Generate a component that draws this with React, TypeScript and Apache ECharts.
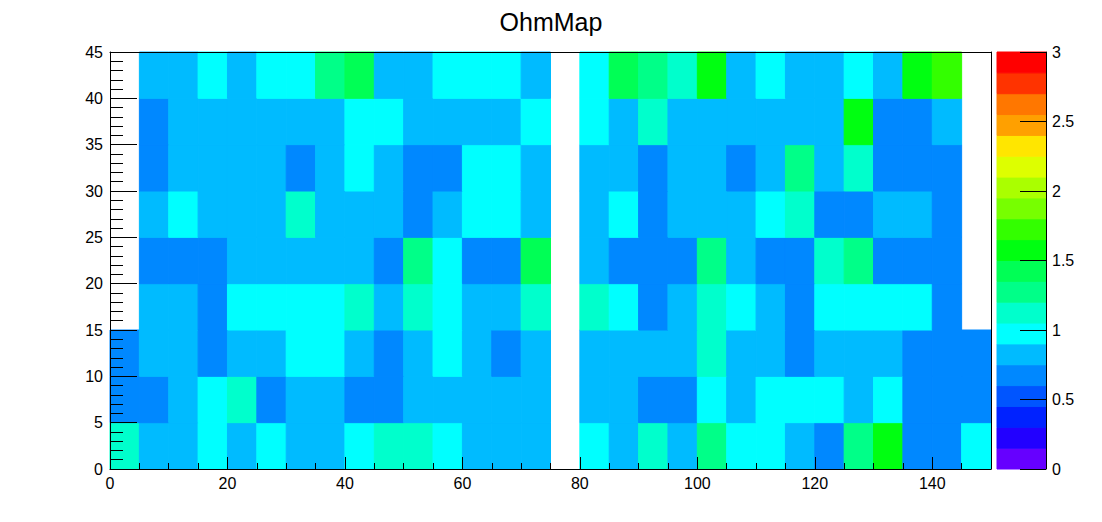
import React, { useEffect, useRef } from "react";
import * as echarts from "echarts";

// Bin edges (lower edges) along x and y
const xBinStarts = [0, 5, 10, 15, 20, 25, 30, 35, 40, 45, 50, 55, 60, 65, 70, 75, 80, 85, 90, 95, 100, 105, 110, 115, 120, 125, 130, 135, 140, 145];
const yBinStarts = [0, 5, 10, 15, 20, 25, 30, 35, 40];
const binWidth = 5;

// Cell contents per y bin (null = empty bin)
const row0 = [1.12, 0.82, 0.82, 0.97, 0.82, 0.97, 0.82, 0.82, 0.97, 1.12, 1.12, 0.97, 0.82, 0.82, 0.82, null, 0.97, 0.82, 1.12, 0.82, 1.28, 0.97, 0.97, 0.82, 0.68, 1.28, 1.57, 0.68, 0.68, 0.97];
const row5 = [0.68, 0.68, 0.82, 0.97, 1.12, 0.68, 0.82, 0.82, 0.68, 0.68, 0.82, 0.82, 0.82, 0.82, 0.82, null, 0.82, 0.82, 0.68, 0.68, 0.97, 0.82, 0.97, 0.97, 0.97, 0.82, 0.97, 0.68, 0.68, 0.68];
const row10 = [0.68, 0.82, 0.82, 0.68, 0.82, 0.82, 0.97, 0.97, 0.82, 0.68, 0.82, 0.97, 0.82, 0.68, 0.82, null, 0.82, 0.82, 0.82, 0.82, 1.12, 0.82, 0.82, 0.68, 0.82, 0.82, 0.82, 0.68, 0.68, 0.68];
const row15 = [null, 0.82, 0.82, 0.68, 0.97, 0.97, 0.97, 0.97, 1.12, 0.82, 1.12, 0.97, 0.82, 0.82, 1.12, null, 1.12, 0.97, 0.68, 0.82, 1.12, 0.97, 0.82, 0.68, 0.97, 0.97, 0.97, 0.97, 0.68, null];
const row20 = [null, 0.68, 0.68, 0.68, 0.82, 0.82, 0.82, 0.82, 0.82, 0.68, 1.28, 0.97, 0.68, 0.68, 1.42, null, 0.82, 0.68, 0.68, 0.68, 1.28, 0.82, 0.68, 0.68, 1.12, 1.28, 0.68, 0.68, 0.68, null];
const row25 = [null, 0.82, 0.97, 0.82, 0.82, 0.82, 1.12, 0.82, 0.82, 0.82, 0.68, 0.82, 0.97, 0.97, 0.82, null, 0.82, 0.97, 0.68, 0.82, 0.82, 0.82, 0.97, 1.12, 0.68, 0.68, 0.82, 0.82, 0.68, null];
const row30 = [null, 0.68, 0.82, 0.82, 0.82, 0.82, 0.68, 0.82, 0.97, 0.82, 0.68, 0.68, 0.97, 0.97, 0.82, null, 0.82, 0.82, 0.68, 0.82, 0.82, 0.68, 0.82, 1.28, 0.82, 1.12, 0.68, 0.68, 0.68, null];
const row35 = [null, 0.68, 0.82, 0.82, 0.82, 0.82, 0.82, 0.82, 0.97, 0.97, 0.82, 0.82, 0.82, 0.82, 0.97, null, 0.97, 0.82, 1.12, 0.82, 0.82, 0.82, 0.82, 0.82, 0.82, 1.57, 0.68, 0.68, 0.82, null];
const row40 = [null, 0.82, 0.82, 0.97, 0.82, 0.97, 0.97, 1.28, 1.42, 0.82, 0.82, 0.97, 0.97, 0.97, 0.82, null, 0.97, 1.42, 1.28, 1.12, 1.57, 0.82, 0.97, 0.82, 0.82, 0.97, 0.82, 1.57, 1.72, null];
const rows = [row0, row5, row10, row15, row20, row25, row30, row35, row40];

// Colour scale: 20 contour levels between 0 and 3
const zMin = 0;
const zMax = 3;
const levelColors = [
  "#6600ff", "#2200ff", "#0022ff", "#0055ff", "#0088ff",
  "#00bbff", "#00ffff", "#00ffcc", "#00ff88", "#00ff55",
  "#00ff11", "#33ff00", "#77ff00", "#aaff00", "#ddff00",
  "#ffe600", "#ffa000", "#ff7700", "#ff3300", "#ff0000",
];
const levelStep = (zMax - zMin) / levelColors.length;
const levelStarts = levelColors.map((_, i) => zMin + i * levelStep);

function colorFor(v: number) {
  let idx = Math.floor((v - zMin) / levelStep);
  if (idx < 0) idx = 0;
  if (idx >= levelColors.length) idx = levelColors.length - 1;
  return levelColors[idx];
}

const FONT = "'Liberation Sans', Arial, Helvetica, sans-serif";

export default function App() {
  const ref = useRef<HTMLDivElement>(null);
  useEffect(() => {
    if (!ref.current) return;
    const chart = echarts.init(ref.current, null, { renderer: "svg" });

    const cellData: any[] = [];
    rows.forEach((row, j) => {
      row.forEach((v, i) => {
        if (v !== null) cellData.push([xBinStarts[i], yBinStarts[j], v]);
      });
    });

    const option: any = {
      animation: false,
      backgroundColor: "#ffffff",
      textStyle: { fontFamily: FONT },
      title: {
        text: "OhmMap",
        left: "center",
        top: 4,
        textStyle: { fontFamily: FONT, fontSize: 25, fontWeight: "normal", color: "#000" },
      },
      grid: [
        { left: 110, right: 111, top: 52, bottom: 53, containLabel: false },
        { left: 997, right: 56, top: 52, bottom: 53, containLabel: false },
      ],
      xAxis: [
        {
          gridIndex: 0,
          type: "value",
          min: 0,
          max: 150,
          interval: 20,
          z: 10,
          axisLine: { show: true, onZero: false, lineStyle: { color: "#000", width: 1 } },
          axisTick: { show: true, inside: true, length: 12, lineStyle: { color: "#000" } },
          minorTick: { show: true, splitNumber: 4, length: 6, lineStyle: { color: "#000" } },
          axisLabel: { color: "#000", fontSize: 16, margin: 6, fontFamily: FONT, showMaxLabel: false },
          splitLine: { show: false },
        },
        {
          gridIndex: 0,
          type: "value",
          position: "top",
          min: 0,
          max: 150,
          z: 10,
          axisLine: { show: true, onZero: false, lineStyle: { color: "#000", width: 1 } },
          axisTick: { show: false },
          axisLabel: { show: false },
          splitLine: { show: false },
        },
        {
          gridIndex: 1,
          type: "value",
          min: 0,
          max: 1,
          show: false,
        },
      ],
      yAxis: [
        {
          gridIndex: 0,
          type: "value",
          min: 0,
          max: 45,
          interval: 5,
          z: 10,
          axisLine: { show: true, onZero: false, lineStyle: { color: "#000", width: 1 } },
          axisTick: { show: true, inside: true, length: 27, lineStyle: { color: "#000" } },
          minorTick: { show: true, splitNumber: 5, length: 13, lineStyle: { color: "#000" } },
          axisLabel: { color: "#000", fontSize: 16, margin: 7, fontFamily: FONT },
          splitLine: { show: false },
        },
        {
          gridIndex: 0,
          type: "value",
          position: "right",
          min: 0,
          max: 45,
          z: 10,
          axisLine: { show: true, onZero: false, lineStyle: { color: "#000", width: 1 } },
          axisTick: { show: false },
          axisLabel: { show: false },
          splitLine: { show: false },
        },
        {
          gridIndex: 1,
          type: "value",
          position: "right",
          min: zMin,
          max: zMax,
          interval: 0.5,
          z: 10,
          axisLine: { show: true, onZero: false, lineStyle: { color: "#000", width: 1 } },
          axisTick: { show: true, inside: true, length: 26, lineStyle: { color: "#000" } },
          axisLabel: { color: "#000", fontSize: 16, margin: 6, fontFamily: FONT },
          splitLine: { show: false },
        },
      ],
      series: [
        {
          type: "custom",
          xAxisIndex: 0,
          yAxisIndex: 0,
          data: cellData,
          encode: { x: 0, y: 1 },
          renderItem: (params: any, api: any) => {
            const x0 = api.value(0);
            const y0 = api.value(1);
            const v = api.value(2);
            const p1 = api.coord([x0, y0 + binWidth]);
            const p2 = api.coord([x0 + binWidth, y0]);
            const c = colorFor(v);
            return {
              type: "rect",
              shape: { x: p1[0], y: p1[1], width: p2[0] - p1[0], height: p2[1] - p1[1] },
              style: { fill: c, stroke: c, lineWidth: 1 },
            };
          },
        },
        {
          type: "custom",
          xAxisIndex: 2,
          yAxisIndex: 2,
          data: levelStarts.map((s, i) => [0, s, i]),
          encode: { x: 0, y: 1 },
          renderItem: (params: any, api: any) => {
            const lo = api.value(1);
            const idx = api.value(2);
            const p1 = api.coord([0, lo + levelStep]);
            const p2 = api.coord([1, lo]);
            return {
              type: "rect",
              shape: { x: p1[0], y: p1[1], width: p2[0] - p1[0], height: p2[1] - p1[1] },
              style: { fill: levelColors[idx], stroke: levelColors[idx], lineWidth: 1 },
            };
          },
        },
      ],
    };
    chart.setOption(option);
    return () => chart.dispose();
  }, []);

  return (
    <div
      ref={ref}
      style={{ position: "fixed", left: 0, top: 0, width: 1102, height: 522, background: "#fff" }}
    />
  );
}
